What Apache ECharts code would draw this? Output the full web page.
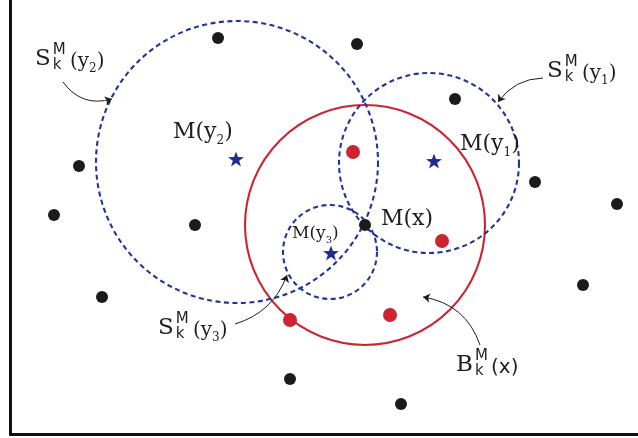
<!DOCTYPE html>
<html><head><meta charset="utf-8">
<script src="https://cdn.jsdelivr.net/npm/echarts@6/dist/echarts.min.js"></script>
<style>html,body{margin:0;padding:0;background:#fff}#c{width:638px;height:438px}</style>
</head><body><div id="c"></div>
<script>
// ---- data (pixel-like units of the drawing plane) ----
const blackDots = [[218,38],[357,44],[455,99],[79,166],[54,215],[535,182],[617,204],[195,225],[102,297],[290,379],[583,285],[401,404]];
const centerPoint = [[365,225]];
const redDots = [[353,152],[442,241],[290,320],[390,315]];
const starPoints = [[236,159],[434,161],[331,253]];
const blueCircles = [[237,162,141],[429,163,90],[330,252,47]];
const redCircles = [[365,225,120]];

// point labels: text parts [main, subscript, closing]
const mLabelText = [['M(y','2',')'],['M(y','1',')'],['M(y','3',')'],['M(x)','','']];
const mLabelAnchor = [[173,140],[460,152],[292,240],[381,227]];
// set labels: [letter, open, subscript, closing]
const setLabelText = [['S','(y','2',')'],['S','(y','1',')'],['S','(y','3',')'],['B','(x)','','']];
const setLabelAnchor = [[35,67],[547,79],[158,336],[456,373]];
// annotation arrows
const arrowFrom = [[63,82],[543,78],[235,324],[480,345]];
const arrowTo = [[112,99],[498,102],[287,275],[423,297]];
const arrowBend = [-0.35,-0.25,-0.25,-0.3];

// ---- styles ----
const BLUE = '#22349a', RED = '#cc2431', INK = '#1e1e1e';
const SERIF = '"DejaVu Serif"', SANS = '"DejaVu Sans"';
const mLabelSize = [22,22,17,22];
const ctx = document.createElement('canvas').getContext('2d');
function measure(t, font){ ctx.font = font; return ctx.measureText(t).width; }
function txt(str, x, base, size, fam){
  const font = size + 'px ' + fam;
  return {type:'text', x:x, y:base - 0.36*size, style:{text:str, font:font, fill:INK, align:'left', verticalAlign:'middle'}};
}
const starPath = 'path://M0,-10L2.35,-3.24L9.51,-3.09L3.8,1.24L5.88,8.09L0,4L-5.88,8.09L-3.8,1.24L-9.51,-3.09L-2.35,-3.24Z';

function circleRender(color, dash){
  return function(params, api){
    const c = api.coord([api.value(0), api.value(1)]);
    const r = api.size([api.value(2), 0])[0];
    return {type:'circle', shape:{cx:c[0], cy:c[1], r:r},
      style:{fill:null, stroke:color, lineWidth:2.1, lineDash:dash}};
  };
}

const chart = echarts.init(document.getElementById('c'), null, {renderer:'canvas'});
chart.setOption({
  animation:false,
  backgroundColor:'#fff',
  grid:{left:10.5, right:0, top:0, bottom:4},
  xAxis:{type:'value', min:10.5, max:638, axisLine:{show:true, onZero:false, lineStyle:{color:'#111', width:3}},
    axisTick:{show:false}, axisLabel:{show:false}, splitLine:{show:false}},
  yAxis:{type:'value', inverse:true, min:0, max:434, axisLine:{show:true, onZero:false, lineStyle:{color:'#111', width:3}},
    axisTick:{show:false}, axisLabel:{show:false}, splitLine:{show:false}},
  series:[
    {type:'custom', data:redCircles, renderItem:circleRender(RED, null), clip:false, z:2, silent:true},
    {type:'custom', data:blueCircles, renderItem:circleRender(BLUE, [5,3.5]), clip:false, z:3, silent:true},
    {type:'lines', coordinateSystem:'cartesian2d', z:4, silent:true,
      symbol:['none','arrow'], symbolSize:7,
      lineStyle:{color:INK, width:1, opacity:1},
      data: arrowFrom.map((p,i)=>({coords:[p, arrowTo[i]], lineStyle:{curveness:arrowBend[i]}}))},
    {type:'scatter', data:blackDots, symbol:'circle', symbolSize:12, itemStyle:{color:'#1b1b1b', opacity:1}, z:5, silent:true},
    {type:'scatter', data:centerPoint, symbol:'circle', symbolSize:12, itemStyle:{color:'#1b1b1b', opacity:1}, z:6, silent:true},
    {type:'scatter', data:redDots, symbol:'circle', symbolSize:14, itemStyle:{color:RED, opacity:1}, z:5, silent:true},
    {type:'scatter', data:starPoints, symbol:starPath, symbolSize:[16,15], itemStyle:{color:'#1f2d8f', opacity:1}, z:5, silent:true},
    {type:'custom', z:7, silent:true, clip:false,
      data: mLabelAnchor.map((p,i)=>[p[0],p[1],i]),
      renderItem:function(params, api){
        const i = api.value(2);
        const p = api.coord([api.value(0), api.value(1)]);
        const s = mLabelSize[i];
        const parts = mLabelText[i];
        const w1 = measure(parts[0], s + 'px ' + SERIF);
        const ss = Math.round(s*0.56);
        const w2 = parts[1] ? measure(parts[1], ss + 'px ' + SERIF) : 0;
        const ch = [txt(parts[0], p[0], p[1], s, SERIF)];
        if (parts[1]) ch.push(txt(parts[1], p[0]+w1, p[1]+0.24*s, ss, SERIF));
        if (parts[2]) ch.push(txt(parts[2], p[0]+w1+w2, p[1], s, SERIF));
        return {type:'group', children:ch};
      }},
    {type:'custom', z:7, silent:true, clip:false,
      data: setLabelAnchor.map((p,i)=>[p[0],p[1],i]),
      renderItem:function(params, api){
        const i = api.value(2);
        const p = api.coord([api.value(0), api.value(1)]);
        const t = setLabelText[i];
        const x0 = p[0], b = p[1];
        const wl = measure(t[0], '23px ' + SERIF);
        const ch = [txt(t[0], x0, b, 23, SERIF),
          txt('M', x0+wl+2, b-11, 15, SANS),
          txt('k', x0+wl+2, b+4, 15, SANS)];
        const fam = t[0] === 'B' ? SANS : SERIF;
        const ox = x0 + 35;
        const wo = measure(t[1], '20px ' + fam);
        ch.push(txt(t[1], ox, b+2, 20, fam));
        let wx = ox + wo;
        if (t[2]) { ch.push(txt(t[2], wx, b+6, 12, SERIF)); wx += measure(t[2], '12px ' + SERIF); }
        if (t[3]) ch.push(txt(t[3], wx, b+2, 20, fam));
        return {type:'group', children:ch};
      }}
  ]
});
</script></body></html>
